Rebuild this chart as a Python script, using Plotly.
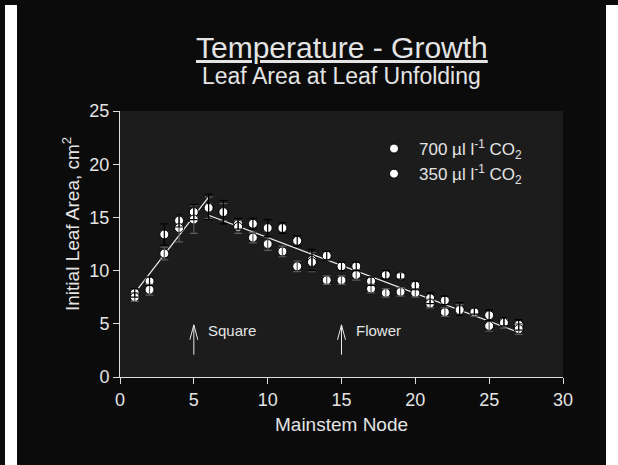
import plotly.graph_objects as go

# ---- data ----
nodes = list(range(1, 28))
area_700 = [7.9, 9.0, 13.4, 14.7, 15.5, 16.0, 15.5, 14.4, 14.4, 14.0, 14.0, 12.8, 11.0, 11.4, 10.4, 10.4, 9.0, 9.6, 9.5, 8.6, 7.4, 7.2, 6.4, 6.2, 5.8, 5.2, 4.9]
area_350 = [7.5, 8.2, 11.6, 14.0, 14.8, 15.9, 15.5, 14.1, 13.1, 12.5, 11.8, 10.4, 10.8, 9.1, 9.1, 9.6, 8.3, 7.9, 8.0, 7.9, 6.9, 6.1, 6.3, 6.1, 4.8, 5.1, 4.5]
err_700 = [0.4, 0.4, 1.0, 0.6, 0.7, 1.2, 1.1, 0.5, 0.5, 0.8, 0.5, 0.5, 1.0, 0.4, 0.4, 0.4, 0.4, 0.4, 0.3, 0.4, 0.5, 0.4, 0.6, 0.3, 0.5, 0.4, 0.5]
err_350 = [0.4, 0.5, 0.6, 1.3, 1.3, 1.0, 0.8, 0.6, 0.5, 0.6, 0.5, 0.5, 0.9, 0.4, 0.4, 0.5, 0.4, 0.4, 0.4, 0.4, 0.4, 0.4, 0.5, 0.4, 0.5, 0.5, 0.5]
fit1_x = [1, 6]
fit1_y = [7.9, 16.9]
fit2_x = [6, 27]
fit2_y = [15.2, 4.2]
labels = ["700 µl l<sup>-1</sup> CO<sub>2</sub>", "350 µl l<sup>-1</sup> CO<sub>2</sub>"]
x_ticks = [0, 5, 10, 15, 20, 25, 30]
y_ticks = [0, 5, 10, 15, 20, 25]
events = [("Square", 5), ("Flower", 15)]

TXT = "#e4e4e4"
FONT = "Arial, Liberation Sans, sans-serif"

fig = go.Figure()

# fitted lines
for fx, fy in [(fit1_x, fit1_y), (fit2_x, fit2_y)]:
    fig.add_trace(go.Scatter(x=fx, y=fy, mode="lines", line=dict(color="#f0f0f0", width=1.2),
                             showlegend=False, hoverinfo="skip"))

# markers
for ys, name in [(area_700, labels[0]), (area_350, labels[1])]:
    fig.add_trace(go.Scatter(x=nodes, y=ys, mode="markers", name=name,
                             marker=dict(color="white", size=9, line=dict(color="black", width=1))))

# error bars drawn on top
for ys, es, col in [(area_350, err_350, "#5a5a5a"), (area_700, err_700, "#000000")]:
    fig.add_trace(go.Scatter(x=nodes, y=ys, mode="markers", showlegend=False,
                             marker=dict(color="rgba(0,0,0,0)", size=1),
                             error_y=dict(type="data", array=es, color=col, thickness=1.2, width=4),
                             hoverinfo="skip"))

def px_x(p):
    return (p - 120) / 443.0

def px_y(p):
    return (377 - p) / 266.0

# arrows for events
shapes = []
annotations = []
for lab, xv in events:
    shapes.append(dict(type="path", xref="x", yref="y",
                       path=f"M {xv},2.1 L {xv},4.9 M {xv-0.27},3.5 L {xv},4.9 L {xv+0.27},3.5",
                       line=dict(color="#e8e8e8", width=1)))
    annotations.append(dict(x=xv + 0.85, y=4.35, xref="x", yref="y", text=lab, showarrow=False,
                            xanchor="left", yanchor="middle", font=dict(size=15, color=TXT, family=FONT)))

# page frame (white side strips)
for x0, x1 in [(5, 17), (606, 620)]:
    shapes.append(dict(type="rect", xref="paper", yref="paper",
                       x0=px_x(x0), x1=px_x(x1), y0=px_y(470), y1=px_y(5),
                       fillcolor="white", line=dict(width=0), layer="below"))

annotations.append(dict(x=px_x(342), y=px_y(47), xref="paper", yref="paper", showarrow=False,
                        text="<u>Temperature - Growth</u>", xanchor="center", yanchor="middle",
                        font=dict(size=30, color=TXT, family=FONT)))
annotations.append(dict(x=px_x(341), y=px_y(76), xref="paper", yref="paper", showarrow=False,
                        text="Leaf Area at Leaf Unfolding", xanchor="center", yanchor="middle",
                        font=dict(size=23, color=TXT, family=FONT)))
annotations.append(dict(x=px_x(341), y=px_y(424), xref="paper", yref="paper", showarrow=False,
                        text="Mainstem Node", xanchor="center", yanchor="middle",
                        font=dict(size=19, color=TXT, family=FONT)))
annotations.append(dict(x=px_x(71), y=px_y(224), xref="paper", yref="paper", showarrow=False,
                        text="Initial Leaf Area, cm<sup>2</sup>", textangle=-90,
                        xanchor="center", yanchor="middle",
                        font=dict(size=19, color=TXT, family=FONT)))

fig.update_layout(
    width=618, height=465,
    margin=dict(l=120, r=55, t=111, b=88),
    paper_bgcolor="#0b0b0b",
    plot_bgcolor="#1c1c1c",
    font=dict(family=FONT, color=TXT, size=18),
    shapes=shapes,
    annotations=annotations,
    legend=dict(x=px_x(369), y=px_y(131), xanchor="left", yanchor="top",
                bgcolor="rgba(0,0,0,0)", font=dict(size=17, color=TXT, family=FONT),
                itemwidth=40, tracegroupgap=0),
    xaxis=dict(range=[0, 30], tickvals=x_ticks, ticks="outside", ticklen=6, tickcolor="#dddddd",
               showline=True, linecolor="#dddddd", linewidth=1, showgrid=False, zeroline=False,
               tickfont=dict(size=18, color=TXT)),
    yaxis=dict(range=[0, 25], tickvals=y_ticks, ticks="outside", ticklen=6, tickcolor="#dddddd",
               showline=True, linecolor="#dddddd", linewidth=1, showgrid=False, zeroline=False,
               tickfont=dict(size=18, color=TXT)),
    showlegend=True,
)

fig.write_html("out.html", config={"displayModeBar": False},
               post_script="document.body.style.margin='0';document.body.style.overflow='hidden';")
